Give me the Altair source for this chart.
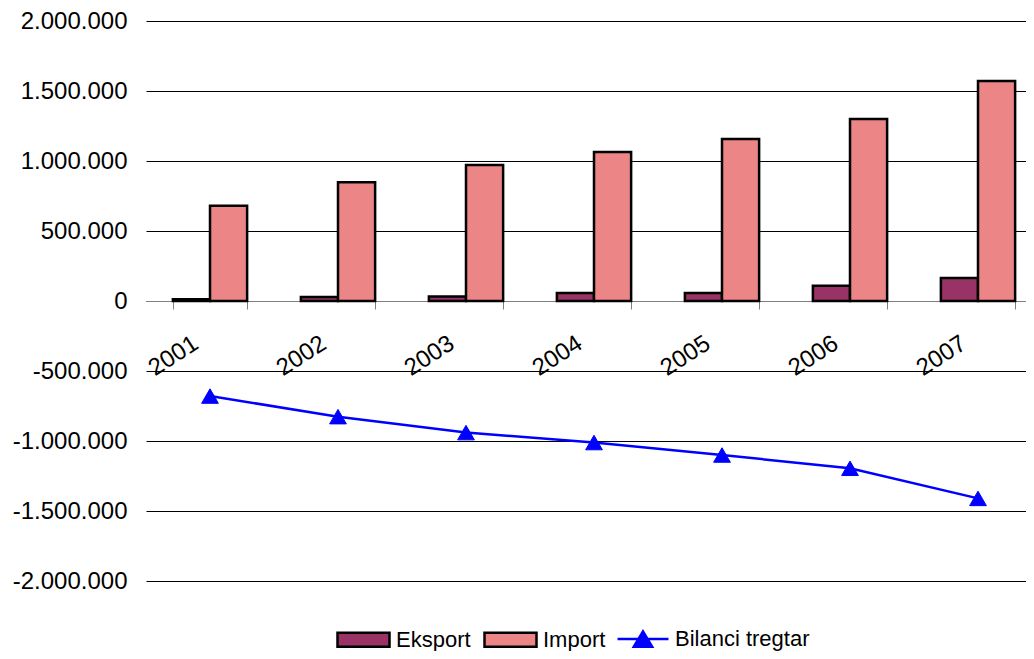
import altair as alt
import pandas as pd

years = ["2001", "2002", "2003", "2004", "2005", "2006", "2007"]
eksport = [12000, 29000, 33000, 57000, 57000, 109000, 164000]
import_vals = [681000, 848000, 971000, 1064000, 1157000, 1300000, 1571000]
bilanci = [-679000, -826000, -940000, -1011000, -1100000, -1195000, -1410000]
bar_series = ["Eksport", "Import"]
bar_colors = ["#993366", "#EC8585"]
line_series = ["Bilanci tregtar"]
line_colors = ["#0000FF"]
y_ticks = [-2000000, -1500000, -1000000, -500000, 0, 500000, 1000000, 1500000, 2000000]

bars_df = pd.DataFrame({
    "year": years * 2,
    "series": ["Eksport"] * len(years) + ["Import"] * len(years),
    "value": eksport + import_vals,
})
line_df = pd.DataFrame({"year": years, "value": bilanci, "series": line_series * len(years)})

FONT = "Liberation Sans"

x_enc = alt.X(
    "year:N", sort=years,
    scale=alt.Scale(range=[0, 896], paddingInner=0.42, paddingOuter=0.21),
    axis=alt.Axis(
        title=None, grid=False, labelAngle=-33, labelFontSize=24, labelFont=FONT,
        labelColor="black", tickSize=8, tickColor="#808080", domainColor="#808080",
        domainWidth=1, tickWidth=1, tickBand="extent", offset=-280, labelPadding=22,
        labelOffset=-21, labelOverlap=False, labelBound=False, labelFlush=False,
    ),
)
y_enc = alt.Y(
    "value:Q",
    scale=alt.Scale(domain=[-2000000, 2000000], nice=False, zero=False),
    axis=alt.Axis(
        title=None, values=y_ticks, domain=False, ticks=False, grid=True,
        gridColor="black", gridWidth=1, labelFontSize=24, labelFont=FONT,
        labelColor="black", labelPadding=19,
        labelExpr="(datum.value < 0 ? '-' : '') + replace(format(abs(datum.value), ','), regexp(',', 'g'), '.')",
    ),
)

bar_legend = alt.Legend(
    title=None, orient="none", legendX=190, legendY=591, direction="horizontal",
    labelFontSize=22, labelFont=FONT, labelColor="black", symbolSize=2704,
    columnPadding=8, labelOffset=5, padding=0,
    symbolType="M-1,-0.27H1V0.27H-1Z", symbolStrokeColor="black", symbolStrokeWidth=2.5,
    symbolOpacity=1,
)
line_legend = alt.Legend(
    title=None, orient="none", legendX=470, legendY=591, direction="horizontal",
    labelFontSize=22, labelFont=FONT, labelColor="black", symbolSize=2601,
    columnPadding=8, labelOffset=5, padding=0,
    symbolType="M-1,0H1M-0.36,0.3L0,-0.3L0.36,0.3Z", symbolStrokeColor="#0000FF",
    symbolFillColor="#0000FF", symbolStrokeWidth=2.5, symbolOpacity=1,
)

bars = alt.Chart(bars_df).mark_bar(stroke="black", strokeWidth=2.5).encode(
    x=x_enc,
    y=y_enc,
    xOffset=alt.XOffset("series:N", sort=bar_series, scale=alt.Scale(paddingInner=0, paddingOuter=0)),
    color=alt.Color("series:N", sort=bar_series, scale=alt.Scale(domain=bar_series, range=bar_colors), legend=bar_legend),
)

line = alt.Chart(line_df).mark_line(color="#0000FF", strokeWidth=2.5).encode(x=x_enc, y=y_enc)
points = alt.Chart(line_df).mark_point(
    shape="triangle-up", filled=True, size=280, opacity=1, stroke="#0000FF", strokeWidth=1
).encode(
    x=x_enc, y=y_enc,
    color=alt.Color("series:N", scale=alt.Scale(domain=line_series, range=line_colors), legend=line_legend),
)

chart = alt.layer(bars, line, points).resolve_scale(color="independent").properties(
    width=880, height=560,
    autosize=alt.AutoSizeParams(type="none"),
    padding={"left": 138, "top": 13, "right": 0, "bottom": 70},
    background="white",
).configure_view(stroke=None)

chart.save("out.html", embed_options={"renderer": "svg", "actions": False})
